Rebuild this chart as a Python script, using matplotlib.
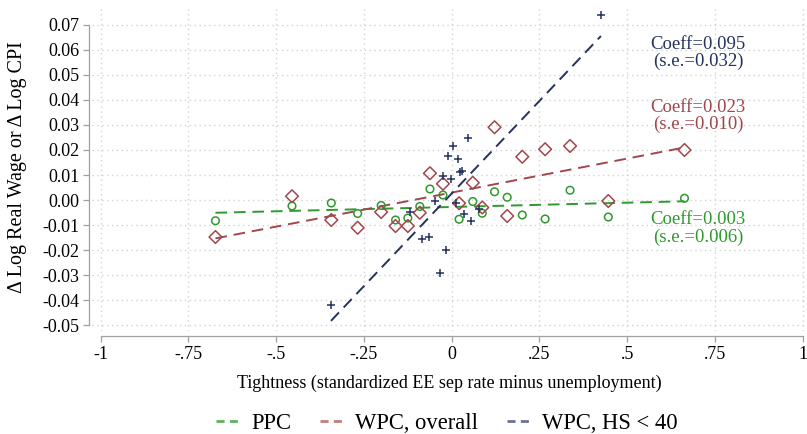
import numpy as np
import matplotlib
matplotlib.use("Agg")
import matplotlib.pyplot as plt
from matplotlib.lines import Line2D

plt.rcParams['font.family'] = ['Liberation Serif', 'DejaVu Serif']

# tightness bins (shared by PPC and WPC overall)
x_all = [-0.673, -0.455, -0.343, -0.268, -0.201, -0.160, -0.125, -0.091, -0.062, -0.025,
         0.021, 0.060, 0.087, 0.122, 0.158, 0.201, 0.266, 0.337, 0.446, 0.663]
ppc = [-0.0083, -0.0024, -0.0012, -0.0054, -0.0022, -0.0080, -0.0072, -0.0026, 0.0044, 0.0020,
       -0.0077, -0.0006, -0.0053, 0.0033, 0.0011, -0.0060, -0.0076, 0.0039, -0.0068, 0.0007]
wpc = [-0.0148, 0.0015, -0.0080, -0.0111, -0.0048, -0.0104, -0.0104, -0.0051, 0.0107, 0.0065,
       -0.0013, 0.0069, -0.0030, 0.0291, -0.0064, 0.0173, 0.0203, 0.0216, -0.0004, 0.0200]

# low high-school share group
x_hs = [-0.344, -0.119, -0.085, -0.065, -0.048, -0.032, -0.024, -0.016, -0.010, -0.002,
        0.005, 0.012, 0.017, 0.024, 0.029, 0.036, 0.046, 0.055, 0.078, 0.425]
wpc_hs = [-0.0419, -0.0049, -0.0156, -0.0149, -0.0004, -0.0291, 0.0096, -0.0200, 0.0174, 0.0083,
          0.0217, -0.0012, 0.0165, 0.0112, 0.0116, -0.0055, 0.0248, -0.0084, -0.0037, 0.0741]

xticks = [-1, -0.75, -0.5, -0.25, 0, 0.25, 0.5, 0.75, 1]
xticklabels = ["-1", "-.75", "-.5", "-.25", "0", ".25", ".5", ".75", "1"]
yticks = np.round(np.arange(-0.05, 0.0701, 0.01), 2)

green = "#2e9a2e"
red = "#a1474c"
navy = "#25325e"

fig = plt.figure(figsize=(8.07, 4.34), dpi=100)
ax = fig.add_axes([0.1136, 0.2373, 0.8864, 0.7466])
ax.set_xlim(-1.0256, 1.012)
ax.set_ylim(-0.0524, 0.0772)

for xv in xticks:
    ax.axvline(xv, color="#d3d3d3", lw=1, ls=(0, (1, 2.5)), zorder=0)
for yv in yticks:
    ax.axhline(yv, color="#d3d3d3", lw=1, ls=(0, (1, 2.5)), zorder=0)

def fitline(xs, ys, color):
    b, a = np.polyfit(xs, ys, 1)
    xx = np.array([min(xs), max(xs)])
    ax.plot(xx, a + b * xx, color=color, lw=1.4, ls=(0, (6, 3.5)), zorder=2)

ax.scatter(x_all, ppc, s=30, facecolors="none", edgecolors=green, linewidths=1.1, zorder=3)
ax.scatter(x_all, wpc, s=42, marker="D", facecolors="none", edgecolors=red, linewidths=1.1, zorder=3)
ax.scatter(x_hs, wpc_hs, s=28, marker="+", color=navy, linewidths=1.1, zorder=3)
fitline(x_all, ppc, green)
fitline(x_all, wpc, red)
fitline(x_hs, wpc_hs, navy)

ax.text(0.702, 0.0588, "Coeff=0.095\n(s.e.=0.032)", color=navy, fontsize=13.5,
        ha="center", va="center", linespacing=1.05)
ax.text(0.702, 0.0336, "Coeff=0.023\n(s.e.=0.010)", color=red, fontsize=13.5,
        ha="center", va="center", linespacing=1.05)
ax.text(0.702, -0.0115, "Coeff=0.003\n(s.e.=0.006)", color=green, fontsize=13.5,
        ha="center", va="center", linespacing=1.05)

for s in ["top", "right"]:
    ax.spines[s].set_visible(False)
ax.spines["left"].set_position(("outward", 1.8))
ax.spines["bottom"].set_position(("outward", 3.4))
ax.spines["left"].set_bounds(-0.05, 0.07)
ax.spines["bottom"].set_bounds(-1, 1)
for s in ["left", "bottom"]:
    ax.spines[s].set_color("#a0a0a0")
    ax.spines[s].set_linewidth(0.9)
ax.tick_params(colors="#a0a0a0", labelcolor="black", length=4, width=0.9, labelsize=13)
ax.tick_params(axis="y", pad=3)
ax.set_xticks(xticks)
ax.set_xticklabels(xticklabels)
ax.set_yticks(yticks)
ax.set_yticklabels(["%.2f" % v for v in yticks])

ax.set_xlabel("Tightness (standardized EE sep rate minus unemployment)", fontsize=13, labelpad=8)
ax.set_ylabel("Δ Log Real Wage or Δ Log CPI", fontsize=14.5)
ax.yaxis.set_label_coords(-0.09, 0.505)

handles = [Line2D([], [], color="#5cb35c", lw=2, ls=(0, (2.9, 1.9))),
           Line2D([], [], color="#c27d80", lw=2, ls=(0, (2.9, 1.9))),
           Line2D([], [], color="#6a7394", lw=2, ls=(0, (2.9, 1.9)))]
fig.legend(handles, ["PPC", "WPC, overall", "WPC, HS < 40"], loc="center",
           bbox_to_anchor=(0.554, 0.025), ncol=3, frameon=False, fontsize=16.3,
           handlelength=1.0, handletextpad=0.55, columnspacing=1.27)

fig.savefig("out.png", dpi=100)
